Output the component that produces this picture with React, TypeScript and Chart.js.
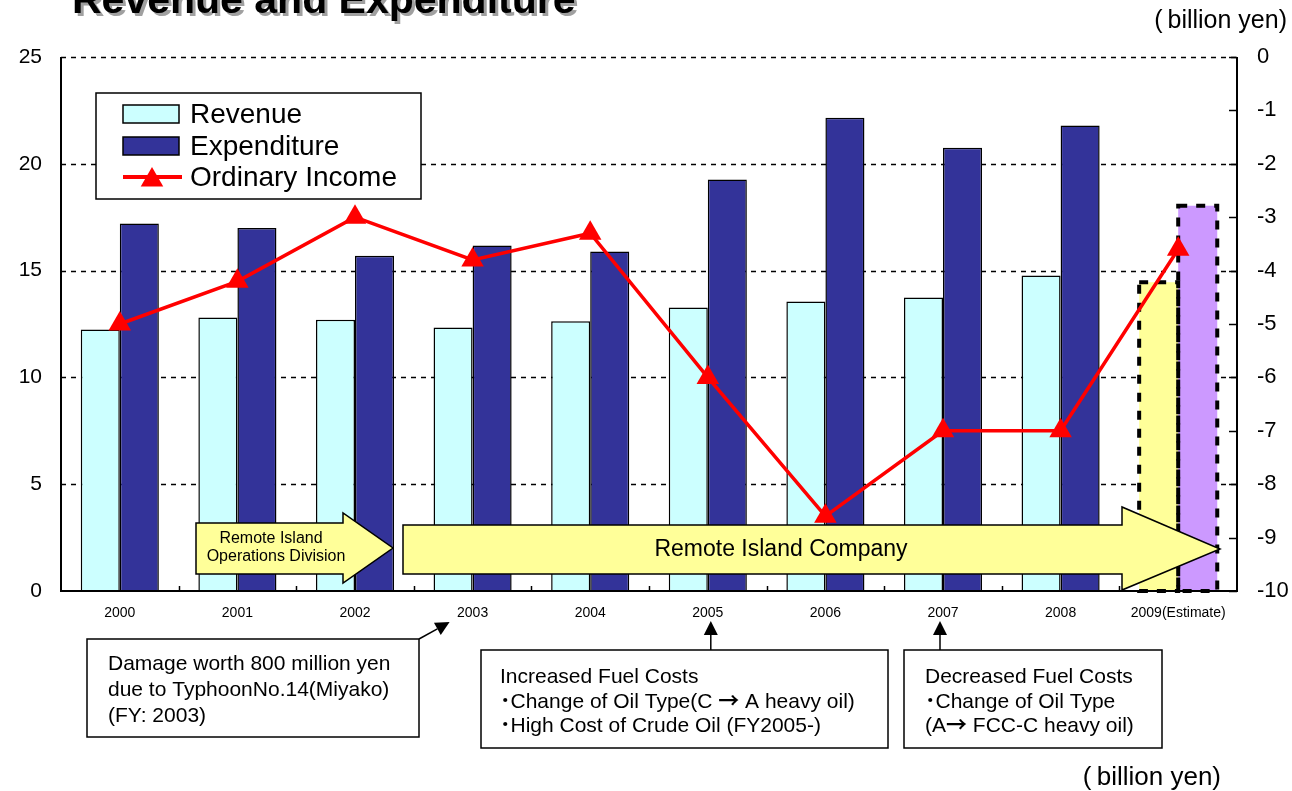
import { useEffect, useRef } from 'react';
import { Chart, registerables } from 'chart.js';

Chart.register(...registerables);

// Fiscal years on the category axis
const years = ['2000', '2001', '2002', '2003', '2004', '2005', '2006', '2007', '2008', '2009(Estimate)'];
// Revenue and expenditure (billion yen, left axis)
const revenue = [12.24, 12.8, 12.7, 12.34, 12.63, 13.27, 13.55, 13.74, 14.77, 14.45];
const expenditure = [17.2, 17.0, 15.7, 16.17, 15.9, 19.27, 22.16, 20.75, 21.79, 18.04];
// Ordinary income (billion yen, right axis)
const ordinaryIncome = [-5.0, -4.2, -3.0, -3.8, -3.3, -6.0, -8.6, -7.0, -7.0, -3.6];
// Axis tick values
const leftTicks = [0, 5, 10, 15, 20, 25];
const rightTicks = [0, -1, -2, -3, -4, -5, -6, -7, -8, -9, -10];

const FONT = '"Liberation Sans", Arial, "Noto Sans CJK JP", sans-serif';
const CJK = '"Noto Sans CJK JP", "Liberation Sans", sans-serif';
const REV = '#CCFFFF';
const EXP = '#333399';
const EST_REV = '#FFFF99';
const EST_EXP = '#CC99FF';
const LINE = '#FF0000';

const lastIdx = years.length - 1;

function triangle(ctx: CanvasRenderingContext2D, cx: number, cy: number, r: number) {
  ctx.beginPath();
  for (let i = 0; i < 3; i++) {
    const a = (i * 2 * Math.PI) / 3;
    const px = cx + Math.sin(a) * r;
    const py = cy - Math.cos(a) * r;
    if (i === 0) ctx.moveTo(px, py);
    else ctx.lineTo(px, py);
  }
  ctx.closePath();
  ctx.fill();
}

function blockArrow(
  ctx: CanvasRenderingContext2D,
  left: number, top: number, bottom: number,
  headX: number, headTop: number, headBottom: number,
  tipX: number, tipY: number
) {
  ctx.beginPath();
  ctx.moveTo(left, top);
  ctx.lineTo(headX, top);
  ctx.lineTo(headX, headTop);
  ctx.lineTo(tipX, tipY);
  ctx.lineTo(headX, headBottom);
  ctx.lineTo(headX, bottom);
  ctx.lineTo(left, bottom);
  ctx.closePath();
  ctx.fillStyle = EST_REV;
  ctx.fill();
  ctx.lineWidth = 1.5;
  ctx.strokeStyle = '#000';
  ctx.stroke();
}

function pointerArrow(ctx: CanvasRenderingContext2D, x1: number, y1: number, x2: number, y2: number) {
  const ang = Math.atan2(y2 - y1, x2 - x1);
  const head = 14;
  const half = 7;
  const bx = x2 - Math.cos(ang) * head;
  const by = y2 - Math.sin(ang) * head;
  ctx.strokeStyle = '#000';
  ctx.lineWidth = 1.5;
  ctx.beginPath();
  ctx.moveTo(x1, y1);
  ctx.lineTo(bx, by);
  ctx.stroke();
  ctx.fillStyle = '#000';
  ctx.beginPath();
  ctx.moveTo(x2, y2);
  ctx.lineTo(bx + Math.sin(ang) * half, by - Math.cos(ang) * half);
  ctx.lineTo(bx - Math.sin(ang) * half, by + Math.cos(ang) * half);
  ctx.closePath();
  ctx.fill();
}

// A line of text made of runs; runs marked as symbols use the CJK face
type Run = { t: string; sym?: boolean };

function drawRuns(ctx: CanvasRenderingContext2D, runs: Run[], x: number, y: number, size: number) {
  let cx = x;
  for (const r of runs) {
    ctx.font = r.sym ? `bold ${size}px ${CJK}` : `${size}px ${FONT}`;
    ctx.fillText(r.t, cx, y);
    cx += ctx.measureText(r.t).width;
  }
}

function noteBox(ctx: CanvasRenderingContext2D, x: number, y: number, w: number, h: number, lines: Run[][], tx: number, baselines: number[]) {
  ctx.fillStyle = '#fff';
  ctx.fillRect(x, y, w, h);
  ctx.strokeStyle = '#000';
  ctx.lineWidth = 1.5;
  ctx.strokeRect(x, y, w, h);
  ctx.fillStyle = '#000';
  ctx.textAlign = 'left';
  ctx.textBaseline = 'alphabetic';
  lines.forEach((runs, i) => drawRuns(ctx, runs, tx, baselines[i], 21));
}

const decorPlugin = {
  id: 'decor',
  beforeDatasetsDraw(chart: any) {
    const { ctx, chartArea: a, scales } = chart;
    const y = scales.y;
    ctx.save();
    ctx.strokeStyle = '#000';
    ctx.lineWidth = 1.5;
    ctx.setLineDash([5, 5]);
    for (const v of leftTicks) {
      if (v === 0) continue;
      const py = Math.round(y.getPixelForValue(v)) + 0.5;
      ctx.beginPath();
      ctx.moveTo(a.left, py);
      ctx.lineTo(a.right, py);
      ctx.stroke();
    }
    ctx.restore();
  },
  beforeDatasetDraw(chart: any, args: any) {
    if (args.meta.type !== 'line') return;
    const { ctx } = chart;
    ctx.save();
    // dotted outlines on the estimate bars
    ctx.setLineDash([9, 9]);
    ctx.lineWidth = 4;
    ctx.strokeStyle = '#000';
    for (const di of [0, 1]) {
      const el = chart.getDatasetMeta(di).data[lastIdx];
      const { x, y, base, width } = el.getProps(['x', 'y', 'base', 'width'], true);
      ctx.strokeRect(x - width / 2, y, width, base - y);
    }
    ctx.setLineDash([]);
    // organisation timeline arrows
    blockArrow(ctx, 196, 523, 574, 343, 513, 583, 393, 548);
    blockArrow(ctx, 403, 525, 574, 1122, 507, 590, 1220, 549);
    ctx.fillStyle = '#000';
    ctx.textAlign = 'center';
    ctx.textBaseline = 'middle';
    ctx.font = `16px ${FONT}`;
    ctx.fillText('Remote Island', 271, 539);
    ctx.fillText('Operations Division', 276, 557);
    ctx.font = `23px ${FONT}`;
    ctx.fillText('Remote Island Company', 781, 550);
    ctx.restore();
  },
  afterDatasetsDraw(chart: any) {
    const { ctx, chartArea: a, scales } = chart;
    const x = scales.x;
    const y1 = scales.y1;
    ctx.save();
    // axis lines
    ctx.strokeStyle = '#000';
    ctx.lineWidth = 2;
    ctx.beginPath();
    ctx.moveTo(a.left, a.top);
    ctx.lineTo(a.left, a.bottom);
    ctx.lineTo(a.right, a.bottom);
    ctx.lineTo(a.right, a.top);
    ctx.stroke();
    // right-axis tick marks (inside)
    ctx.lineWidth = 1.5;
    for (const v of rightTicks) {
      const py = Math.round(y1.getPixelForValue(v)) + 0.5;
      ctx.beginPath();
      ctx.moveTo(a.right - 8, py);
      ctx.lineTo(a.right, py);
      ctx.stroke();
    }
    // category separators on the x axis
    for (let i = 1; i < years.length; i++) {
      const px = Math.round((x.getPixelForValue(i - 1) + x.getPixelForValue(i)) / 2) + 0.5;
      ctx.beginPath();
      ctx.moveTo(px, a.bottom);
      ctx.lineTo(px, a.bottom - 5);
      ctx.stroke();
    }

    // legend
    ctx.fillStyle = '#fff';
    ctx.fillRect(96, 93, 325, 106);
    ctx.lineWidth = 1.5;
    ctx.strokeRect(96, 93, 325, 106);
    ctx.fillStyle = REV;
    ctx.fillRect(123, 105, 56, 18);
    ctx.strokeRect(123, 105, 56, 18);
    ctx.fillStyle = EXP;
    ctx.fillRect(123, 137, 56, 18);
    ctx.strokeRect(123, 137, 56, 18);
    ctx.strokeStyle = LINE;
    ctx.lineWidth = 4;
    ctx.beginPath();
    ctx.moveTo(123, 177);
    ctx.lineTo(182, 177);
    ctx.stroke();
    ctx.fillStyle = LINE;
    triangle(ctx, 152, 180, 13);
    ctx.fillStyle = '#000';
    ctx.font = `28px ${FONT}`;
    ctx.textAlign = 'left';
    ctx.textBaseline = 'middle';
    ctx.fillText('Revenue', 190, 115);
    ctx.fillText('Expenditure', 190, 147);
    ctx.fillText('Ordinary Income', 190, 178);
    ctx.restore();
  },
  afterDraw(chart: any) {
    const { ctx, scales } = chart;
    const x = scales.x;
    ctx.save();
    // title with drop shadow
    ctx.font = `bold 41px ${FONT}`;
    ctx.textAlign = 'left';
    ctx.textBaseline = 'alphabetic';
    ctx.fillStyle = '#a0a0a0';
    ctx.fillText('Revenue and Expenditure', 75, 16);
    ctx.fillStyle = '#000';
    ctx.fillText('Revenue and Expenditure', 72, 13);

    // unit labels
    ctx.textBaseline = 'middle';
    ctx.textAlign = 'right';
    ctx.font = `25px ${FONT}`;
    ctx.fillText('(\u2009billion yen)', 1287, 21);
    ctx.font = `26px ${FONT}`;
    ctx.fillText('(\u2009billion yen)', 1221, 778);

    // notes under the axis
    const p3 = x.getPixelForValue(3);
    const p5 = x.getPixelForValue(5);
    const p7 = x.getPixelForValue(7);
    noteBox(ctx, 87, 639, 332, 98,
      [
        [{ t: 'Damage worth 800 million yen' }],
        [{ t: 'due to TyphoonNo.14(Miyako)' }],
        [{ t: '(FY: 2003)' }],
      ],
      108, [670, 696, 722]);
    pointerArrow(ctx, 419, 639, p3 - 23, 622);
    noteBox(ctx, 481, 650, 407, 98,
      [
        [{ t: 'Increased Fuel Costs' }],
        [{ t: '\uFF65', sym: true }, { t: 'Change of Oil Type(C ' }, { t: '\u2192', sym: true }, { t: ' A heavy oil)' }],
        [{ t: '\uFF65', sym: true }, { t: 'High Cost of Crude Oil (FY2005-)' }],
      ],
      500, [683, 708, 732]);
    pointerArrow(ctx, p5 + 3, 650, p5 + 3, 621);
    noteBox(ctx, 904, 650, 258, 98,
      [
        [{ t: 'Decreased Fuel Costs' }],
        [{ t: '\uFF65', sym: true }, { t: 'Change of Oil Type' }],
        [{ t: '(A' }, { t: '\u2192', sym: true }, { t: ' FCC-C heavy oil)' }],
      ],
      925, [683, 708, 732]);
    pointerArrow(ctx, p7 - 3, 650, p7 - 3, 621);
    ctx.restore();
  },
};

export default function App() {
  const ref = useRef<HTMLCanvasElement>(null);

  useEffect(() => {
    const canvas = ref.current;
    if (!canvas) return;
    const chart = new Chart(canvas, {
      type: 'bar',
      data: {
        labels: years,
        datasets: [
          {
            type: 'bar',
            label: 'Revenue',
            data: revenue,
            yAxisID: 'y',
            order: 2,
            backgroundColor: years.map((_, i) => (i === lastIdx ? EST_REV : REV)),
            borderColor: years.map((_, i) => (i === lastIdx ? 'rgba(0,0,0,0)' : '#000')),
            borderWidth: years.map((_, i) => (i === lastIdx ? 0 : 1.5)),
            categoryPercentage: 0.664,
            barPercentage: 1,
          },
          {
            type: 'bar',
            label: 'Expenditure',
            data: expenditure,
            yAxisID: 'y',
            order: 2,
            backgroundColor: years.map((_, i) => (i === lastIdx ? EST_EXP : EXP)),
            borderColor: years.map((_, i) => (i === lastIdx ? 'rgba(0,0,0,0)' : '#000')),
            borderWidth: years.map((_, i) => (i === lastIdx ? 0 : 1.5)),
            categoryPercentage: 0.664,
            barPercentage: 1,
          },
          {
            type: 'line',
            label: 'Ordinary Income',
            data: ordinaryIncome,
            yAxisID: 'y1',
            order: 1,
            borderColor: LINE,
            borderWidth: 3.5,
            backgroundColor: LINE,
            pointStyle: 'triangle',
            pointRadius: 13,
            pointBackgroundColor: LINE,
            pointBorderColor: LINE,
            pointBorderWidth: 0,
            tension: 0,
          },
        ],
      },
      options: {
        responsive: false,
        animation: false,
        events: [],
        layout: { padding: { top: 57, left: 0, right: 0, bottom: 0 } },
        plugins: {
          legend: { display: false },
          tooltip: { enabled: false },
        },
        scales: {
          x: {
            grid: { display: false, drawTicks: false },
            border: { display: false },
            ticks: {
              color: '#000',
              font: { family: FONT, size: 14 },
              padding: 14,
              maxRotation: 0,
              autoSkip: false,
            },
            afterFit: (s: any) => {
              s.height = 200;
            },
          },
          y: {
            position: 'left',
            min: 0,
            max: 25,
            grid: { display: false, drawTicks: false },
            border: { display: false },
            ticks: {
              stepSize: 5,
              color: '#000',
              font: { family: FONT, size: 21 },
              padding: 19,
            },
            afterFit: (s: any) => {
              s.width = 61;
            },
          },
          y1: {
            position: 'right',
            min: -10,
            max: 0,
            grid: { display: false, drawTicks: false },
            border: { display: false },
            ticks: {
              stepSize: 1,
              color: '#000',
              font: { family: FONT, size: 22 },
              padding: 20,
            },
            afterFit: (s: any) => {
              s.width = 55;
            },
          },
        },
      },
      plugins: [decorPlugin],
    });
    return () => chart.destroy();
  }, []);

  return (
    <div style={{ position: 'absolute', left: 0, top: 0, width: 1292, height: 791, background: '#fff' }}>
      <canvas ref={ref} width={1292} height={791} style={{ display: 'block' }} />
    </div>
  );
}
